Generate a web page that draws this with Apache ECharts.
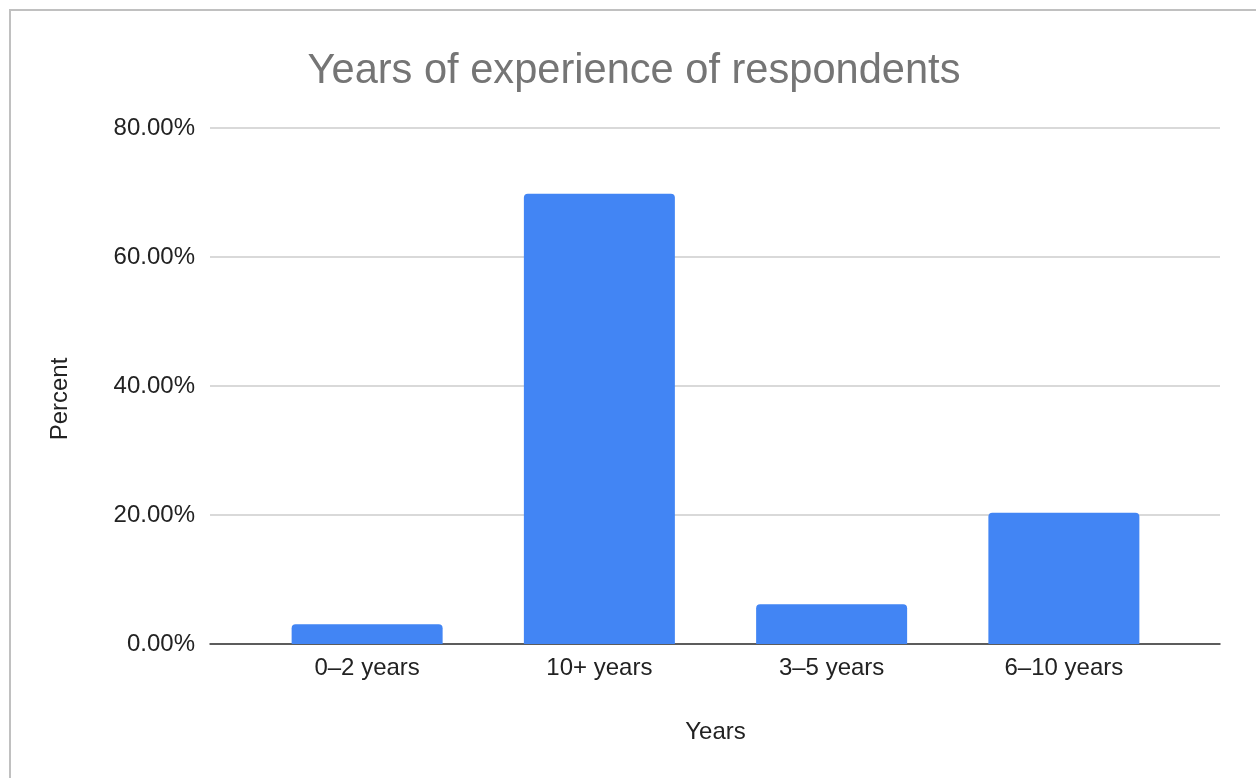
<!DOCTYPE html>
<html>
<head>
<meta charset="utf-8">
<script src="https://cdn.jsdelivr.net/npm/echarts@6/dist/echarts.min.js"></script>
<style>
	html, body { margin: 0; padding: 0; background: #fff; overflow: hidden; }
	#frame { position: absolute; left: 9px; top: 9px; width: 1300px; height: 820px; border: 2px solid #c0c0c0; box-sizing: border-box; }
	#main { position: absolute; left: 0; top: 0; width: 1256px; height: 778px; }
</style>
</head>
<body>
<div id="frame"></div>
<div id="main"></div>
<script>
// data
const categories = ['0–2 years', '10+ years', '3–5 years', '6–10 years']
const percents = [3.05, 69.8, 6.15, 20.35]
const yTicks = [0, 20, 40, 60, 80]

const font = 'Arial, "Liberation Sans", sans-serif'
const myChart = echarts.init(document.getElementById('main'))

myChart.setOption({
	animation: false,
	title: {
		text: 'Years of experience of respondents',
		left: 629,
		textAlign: 'center',
		top: 46,
		textStyle: { fontFamily: font, fontSize: 41.6, fontWeight: 'normal', color: '#757575' }
	},
	// y axis title, placed by hand like the sheet does
	graphic: [
		{
			type: 'text',
			x: 60,
			y: 399,
			rotation: Math.PI / 2,
			style: {
				text: 'Percent',
				font: '24px ' + font,
				fill: '#222',
				align: 'center',
				verticalAlign: 'middle'
			}
		}
	],
	grid: [
		// frame grid: gridlines and axis line run wider than the bars
		{ left: 210, right: 36, top: 128, bottom: 134 },
		// bar grid
		{ left: 251, right: 76, top: 128, bottom: 134 }
	],
	xAxis: [
		{
			gridIndex: 0,
			type: 'value',
			min: 0,
			max: 1,
			axisLine: { show: true, lineStyle: { color: '#333', width: 1.5 } },
			axisTick: { show: false },
			axisLabel: { show: false },
			splitLine: { show: false }
		},
		{
			gridIndex: 1,
			type: 'category',
			data: categories,
			name: 'Years',
			nameLocation: 'middle',
			nameGap: 76,
			nameTextStyle: { fontFamily: font, fontSize: 24, color: '#222' },
			axisLine: { show: false },
			axisTick: { show: false },
			axisLabel: { fontFamily: font, fontSize: 24, color: '#222', margin: 12 }
		}
	],
	yAxis: [
		{
			gridIndex: 0,
			type: 'value',
			min: yTicks[0],
			max: yTicks[yTicks.length - 1],
			interval: yTicks[1] - yTicks[0],
			axisLine: { show: false },
			axisTick: { show: false },
			axisLabel: {
				fontFamily: font,
				fontSize: 24,
				color: '#222',
				margin: 15,
				padding: [4, 0, 0, 0],
				formatter: v => v.toFixed(2) + '%'
			},
			splitLine: { lineStyle: { color: '#cccccc', width: 1.5 } }
		},
		{
			gridIndex: 1,
			type: 'value',
			min: yTicks[0],
			max: yTicks[yTicks.length - 1],
			show: false,
			splitLine: { show: false }
		}
	],
	series: [
		{
			type: 'bar',
			xAxisIndex: 1,
			yAxisIndex: 1,
			data: percents,
			barWidth: 151,
			itemStyle: { color: '#4285f4', borderRadius: [4, 4, 0, 0] }
		}
	]
})
</script>
</body>
</html>
